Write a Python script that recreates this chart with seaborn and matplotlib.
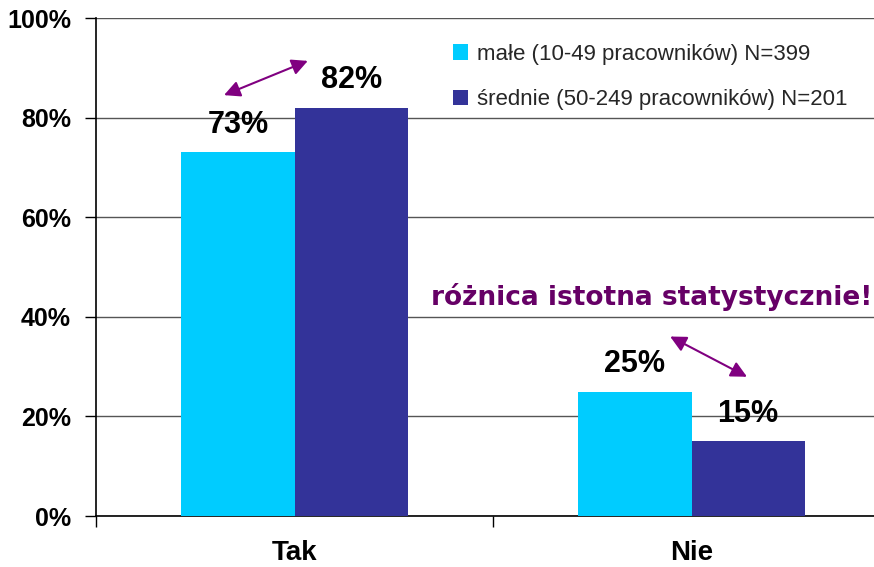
import matplotlib
matplotlib.use("Agg")
import matplotlib.pyplot as plt
import seaborn as sns
import pandas as pd
from matplotlib.patches import Patch
from matplotlib.ticker import FixedLocator

categories = ["Tak", "Nie"]
groups = ["małe (10-49 pracowników) N=399", "średnie (50-249 pracowników) N=201"]
small_vals = [73, 25]
medium_vals = [82, 15]
yticks = [0, 20, 40, 60, 80, 100]
ytick_labels = ["0%", "20%", "40%", "60%", "80%", "100%"]
colors = ["#00CCFF", "#333399"]
note = "różnica istotna statystycznie!"

df = pd.DataFrame({
    "cat": categories * 2,
    "group": [groups[0]] * 2 + [groups[1]] * 2,
    "val": small_vals + medium_vals,
})

sns.set_theme(style="white")
plt.rcParams["font.family"] = ["Liberation Sans", "DejaVu Sans"]

fig = plt.figure(figsize=(8.74, 5.67), dpi=100)
ax = fig.add_axes([96 / 874, 51 / 567, 794 / 874, 498 / 567])

sns.barplot(data=df, x="cat", y="val", hue="group", palette=colors, width=0.57,
            saturation=1, ax=ax, legend=False, linewidth=0, zorder=3)

ax.set_xlim(-0.5, 1.5)
ax.set_ylim(0, 100)
ax.set_yticks(yticks)
ax.set_yticklabels(ytick_labels, fontsize=18, fontweight="bold", color="black")
ax.set_xticks([0, 1])
ax.set_xticklabels(categories, fontsize=20, fontweight="bold", color="black")
ax.tick_params(axis="x", which="major", length=0, pad=17)
ax.xaxis.set_minor_locator(FixedLocator([-0.5, 0.5, 1.5]))
ax.tick_params(axis="x", which="minor", length=8, width=1, color="black", direction="out", bottom=True)
ax.tick_params(axis="y", length=8, width=1, color="black", direction="out", left=True, pad=10)
ax.set_xlabel("")
ax.set_ylabel("")

ax.yaxis.grid(True, color="#555555", linewidth=1, zorder=0)
ax.set_axisbelow(True)
for s in ["top", "right"]:
    ax.spines[s].set_visible(False)
for s in ["left", "bottom"]:
    ax.spines[s].set_color("black")
    ax.spines[s].set_linewidth(1.2)

for cont, vals in zip(ax.containers, [small_vals, medium_vals]):
    for bar, v in zip(cont, vals):
        ax.annotate(f"{v}%", (bar.get_x() + bar.get_width() / 2, bar.get_height()),
                    xytext=(0, 20), textcoords="offset points", ha="center", va="center",
                    fontsize=22, fontweight="bold", color="black", zorder=5)

arrow_kw = dict(arrowstyle="<|-|>,head_length=0.8,head_width=0.4", color="#800080", lw=1.5)
ax.annotate("", xy=(-0.184, 84.3), xytext=(0.040, 91.6), arrowprops=arrow_kw, zorder=6)
ax.annotate("", xy=(0.940, 36.3), xytext=(1.146, 27.7), arrowprops=arrow_kw, zorder=6)

ax.text(0.900, 44.0, note, ha="center", va="center", fontsize=19, fontweight="bold",
        color="#660066", family="DejaVu Sans", zorder=6)

handles = [Patch(facecolor=c, edgecolor="none") for c in colors]
ax.legend(handles, groups, loc="upper left", bbox_to_anchor=(0.438, 0.966), frameon=False,
          fontsize=16, labelspacing=1.1, handlelength=0.7, handleheight=0.7,
          handletextpad=0.4, borderaxespad=0)

fig.savefig("out.png", dpi=100)
